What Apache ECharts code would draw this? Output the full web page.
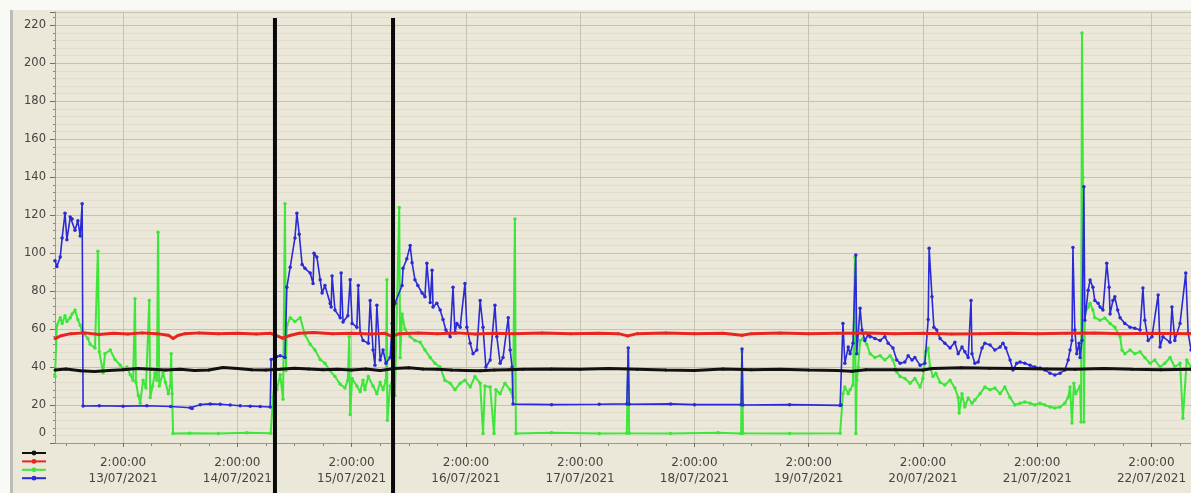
<!DOCTYPE html>
<html>
<head>
<meta charset="utf-8">
<title>chart</title>
<script src="https://cdn.jsdelivr.net/npm/echarts@6/dist/echarts.min.js"></script>
<style>
  html, body { margin: 0; padding: 0; background: #fff; }
  #chart { width: 1191px; height: 493px; }
</style>
</head>
<body>
<div id="chart"></div>
<script>
// x values are hours counted from 13/07/2021 2:00:00
const firstDay = 13
const xMin = -14.3
const xMax = 224.3
const dayTicks = [0, 24, 48, 72, 96, 120, 144, 168, 192, 216]
const sixHourTicks = [-12, -6, 6, 12, 18, 30, 36, 42, 54, 60, 66, 78, 84, 90, 102, 108, 114,
  126, 132, 138, 150, 156, 162, 174, 180, 186, 198, 204, 210, 222]
const yTicks = [0, 20, 40, 60, 80, 100, 120, 140, 160, 180, 200, 220]
const cursorHours = [31.9, 56.7]

const blackData = [
  [-14.3, 38.5], [-12, 39], [-9, 38], [-6, 37.6], [-3, 38.2], [0, 38.6], [3, 39.2], [6, 38.8],
  [9, 38.4], [12, 38.8], [15, 38.2], [18, 38.4], [21, 39.8], [24, 39.2], [27, 38.6], [30, 38.4],
  [33, 38.8], [36, 39.4], [39, 39.0], [42, 38.6], [45, 38.8], [48, 38.4], [51, 39.0], [54, 38.2],
  [57, 39.2], [60, 39.6], [63, 39.0], [66, 38.8], [69, 38.4], [72, 38.2], [75, 38.0], [78, 38.4],
  [81, 38.6], [84, 38.8], [90, 39.0], [96, 38.8], [102, 39.2], [108, 38.8], [114, 38.4], [120, 38.2],
  [126, 39.0], [132, 38.6], [138, 38.8], [144, 38.4], [150, 38.2], [153, 37.8], [156, 38.6],
  [162, 38.6], [168, 38.4], [170, 39.2], [176, 39.6], [182, 39.4], [188, 39.2], [194, 39.0],
  [200, 38.8], [206, 39.2], [212, 38.8], [218, 38.6], [224.3, 38.8]
]

const redData = [
  [-14.3, 55.0], [-13, 56.5], [-11, 57.6], [-8, 58.0], [-5, 57.2], [-2, 57.8], [1, 57.4], [4, 58.0],
  [7, 57.6], [9.5, 56.8], [10.5, 55.0], [11.5, 56.6], [13, 57.6], [16, 58.0], [20, 57.6], [24, 57.8],
  [28, 57.4], [31, 57.8], [33.5, 55.2], [35, 56.6], [37, 57.8], [40, 58.2], [44, 57.6], [48, 57.8],
  [52, 57.4], [55, 57.8], [56.5, 56.2], [58, 57.6], [62, 58.0], [66, 57.6], [70, 58.0], [74, 57.4],
  [78, 57.8], [82, 57.6], [88, 58.0], [94, 57.6], [100, 57.8], [104, 57.6], [106, 56.4], [108, 57.6],
  [114, 58.0], [120, 57.6], [126, 57.8], [130, 56.8], [132, 57.6], [138, 58.0], [144, 57.6],
  [150, 57.8], [156, 58.0], [162, 57.6], [168, 57.8], [174, 57.4], [180, 57.6], [186, 57.8],
  [192, 57.6], [198, 57.8], [204, 58.0], [210, 57.6], [216, 57.8], [224.3, 57.6]
]

const greenData = [
  [-14.3, 35], [-13.9, 62], [-13.2, 66], [-12.8, 63], [-12.2, 67], [-11.8, 64], [-11.1, 66],
  [-10.7, 68], [-10.1, 70], [-9.5, 65], [-9.0, 62], [-8.6, 59], [-7.4, 55], [-6.9, 52], [-5.9, 50],
  [-5.3, 101], [-5.0, 48], [-4.2, 37], [-3.8, 47], [-2.7, 49], [-1.7, 44], [-0.6, 41], [0.0, 39],
  [0.8, 40], [1.5, 36], [2.1, 33], [2.5, 76], [2.7, 32], [3.2, 25], [3.6, 21], [4.2, 33], [4.8, 29],
  [5.5, 75], [5.7, 24], [6.2, 30], [6.7, 37], [7.1, 33], [7.35, 111], [7.6, 30], [8.4, 37],
  [8.9, 32], [9.5, 26], [9.9, 30], [10.1, 47], [10.3, 26], [10.5, 5], [14, 5.2], [20, 5.0],
  [26, 5.4], [31, 5.2],
  [31.5, 24], [31.9, 34], [32.3, 28], [33.0, 36], [33.6, 23], [34.0, 126], [34.2, 38], [34.4, 62],
  [35.1, 66], [36.1, 64], [37.2, 66], [38.2, 57], [39.3, 52], [40.3, 49], [41.4, 44], [42.4, 42],
  [43.5, 38], [44.5, 35], [45.6, 31], [46.6, 29], [47.2, 33], [47.5, 56], [47.7, 15], [48.1, 34],
  [49.1, 30], [49.8, 27], [50.4, 33], [50.8, 28], [51.5, 35], [52.5, 30], [53.3, 26], [54.0, 32],
  [54.6, 28], [55.2, 33], [55.4, 86], [55.5, 12], [56.1, 30], [56.7, 34], [57.1, 25], [58.0, 124],
  [58.2, 45], [58.6, 68], [59.2, 60], [60.3, 56], [61.3, 54], [62.4, 53], [63.4, 49], [64.5, 45],
  [65.5, 42], [66.6, 40], [67.6, 33], [68.7, 31.5], [69.7, 28], [70.8, 31.5], [71.8, 33],
  [72.9, 29.5], [73.9, 35], [75.0, 31.5], [75.6, 5], [76.0, 30], [77.1, 29.5], [77.9, 5], [78.3, 28],
  [79.2, 26], [80.2, 31.5], [81.3, 28], [81.9, 24], [82.3, 118], [82.5, 5],
  [90, 5.4], [100, 5.0], [105.8, 5.2], [106.1, 48], [106.3, 5.2], [115, 5.0], [125, 5.4],
  [129.8, 5.0], [130.0, 48], [130.2, 5.2], [140, 5.0], [150.6, 5.2],
  [151.2, 26], [151.6, 29.5], [152.3, 26], [152.7, 28], [153.3, 30.5], [153.7, 98], [153.9, 5],
  [154.1, 33], [154.4, 40], [154.8, 54], [155.4, 55], [156.2, 52], [156.9, 47], [157.9, 45],
  [159.0, 46], [160.0, 43.7], [161.1, 46], [161.7, 43.7], [162.5, 37.4], [163.2, 35], [164.2, 34],
  [165.3, 31.5], [166.3, 34], [167.4, 29.5], [168.0, 34], [168.6, 48], [169.1, 50], [169.5, 40],
  [170.1, 35], [170.7, 36.8], [171.6, 32], [172.6, 30.5], [173.7, 33], [174.7, 29], [175.4, 24],
  [175.6, 15.8], [176.2, 26], [176.8, 19], [177.5, 23.7], [178.3, 21], [178.9, 22.6], [180.0, 26],
  [181.0, 29.5], [182.1, 28], [183.1, 29], [184.2, 26], [185.2, 29.5], [186.3, 24], [187.3, 20],
  [188.4, 21], [189.4, 21.6], [190.5, 21], [191.5, 20], [192.6, 21], [193.6, 20], [194.7, 19],
  [195.7, 18.4], [196.8, 19], [197.8, 21], [198.5, 24], [198.9, 29.5], [199.3, 10.5], [199.7, 31.5],
  [200.1, 26], [201.0, 30], [201.2, 11], [201.4, 216], [201.6, 140], [201.8, 11], [202.0, 68],
  [202.7, 71.6], [203.1, 73.6], [203.7, 70], [204.1, 66], [205.2, 64.7], [206.2, 65.8], [207.3, 63],
  [208.3, 61], [209.4, 56], [209.8, 49], [210.4, 47], [211.5, 49], [212.5, 47], [213.6, 48],
  [214.6, 45], [215.7, 42], [216.7, 43.7], [217.8, 40], [218.8, 42], [219.9, 45], [220.9, 40],
  [222.0, 42], [222.6, 13], [223.4, 43.7], [224.3, 40]
]

const blueData = [
  [-14.3, 96], [-13.9, 93], [-13.2, 98], [-12.8, 108], [-12.2, 121], [-11.8, 107], [-11.1, 119],
  [-10.7, 118], [-10.1, 112], [-9.5, 117], [-9.0, 109], [-8.6, 126], [-8.4, 19.5], [-5, 19.6],
  [0, 19.4], [5, 19.6], [10, 19.2], [14.1, 18.6], [14.5, 18.2], [16.2, 20.2], [18.3, 20.6],
  [20.4, 20.4], [22.5, 20.0], [24.6, 19.6], [26.7, 19.4], [28.8, 19.2], [30.9, 19.0],
  [31.1, 44], [32.3, 45.5], [33.0, 46], [34.0, 45], [34.4, 82], [35.1, 92.6], [36.1, 108],
  [36.5, 121], [37.0, 110], [37.6, 94], [38.2, 92], [39.3, 89.5], [39.9, 84], [40.1, 100],
  [40.7, 98], [41.4, 86], [41.8, 79], [42.4, 83], [43.5, 73.5], [43.7, 71.6], [43.9, 88], [44.5, 70],
  [45.6, 66], [45.8, 89.5], [46.2, 63.7], [47.2, 67], [47.7, 86], [48.1, 63], [49.1, 61], [49.4, 83],
  [49.8, 58], [50.4, 54], [51.5, 52.6], [51.9, 75], [52.5, 49], [52.9, 41], [53.3, 72.6], [54.0, 43.7],
  [54.6, 49], [55.2, 42], [56.1, 45], [56.5, 63], [57.1, 73.6], [58.6, 83], [58.8, 92], [59.6, 97],
  [60.3, 104], [60.7, 95], [61.3, 86], [61.9, 83], [62.8, 79], [63.4, 77], [63.8, 94.7], [64.5, 74],
  [64.9, 91], [65.1, 71.6], [65.9, 73.6], [66.6, 70], [67.2, 65], [67.8, 59.5], [68.7, 56], [69.3, 82],
  [69.7, 58], [70.1, 63], [70.8, 61], [71.8, 84], [72.2, 61], [72.9, 52.6], [73.5, 47], [74.3, 49],
  [75.0, 75], [75.6, 61], [76.2, 40], [77.1, 43.7], [78.1, 72.6], [78.5, 56], [79.2, 42], [79.8, 45],
  [80.9, 66], [81.3, 49], [81.7, 40], [81.9, 20.5], [90, 20.2], [100, 20.4], [105.8, 20.6],
  [106.1, 50], [106.3, 20.4], [115, 20.6], [120, 20.2], [129.8, 20.2], [130.0, 49.5], [130.2, 20.0],
  [140, 20.2], [150.6, 19.8], [150.8, 20], [151.2, 63], [151.6, 42], [152.3, 50.5], [152.7, 47],
  [153.3, 52.6], [153.9, 99], [154.1, 47], [154.8, 71], [155.2, 59.5], [155.8, 54], [156.5, 57],
  [156.9, 56], [157.9, 55], [159.0, 54], [160.0, 56], [160.7, 52.6], [161.7, 50], [162.5, 43.7],
  [163.2, 42], [164.2, 42.6], [164.9, 46], [165.7, 43.7], [166.3, 45], [167.4, 41], [168.4, 42],
  [169.1, 65], [169.3, 102.6], [169.9, 77], [170.3, 61], [170.9, 59.5], [171.6, 55], [172.6, 52.6],
  [173.7, 50], [174.7, 53], [175.4, 47], [176.2, 50.5], [176.8, 48], [177.5, 45], [178.1, 75],
  [178.3, 47], [178.9, 42], [179.6, 42.6], [180.4, 50], [181.0, 52.6], [182.1, 51.6], [183.1, 49],
  [184.2, 50.5], [184.8, 52.6], [185.4, 50], [186.3, 43.7], [186.9, 38.4], [187.7, 42], [188.4, 42.6],
  [189.4, 42], [190.5, 41], [191.5, 40], [192.6, 39.5], [193.6, 38.4], [194.7, 36.8], [195.7, 35.8],
  [196.8, 36.8], [197.8, 38.4], [198.5, 43.7], [198.9, 49], [199.3, 54], [199.5, 103], [199.9, 59.5],
  [200.3, 47], [200.8, 52.6], [201.0, 45], [201.4, 54], [201.8, 135], [202.0, 64.7], [202.7, 80.5],
  [203.1, 85.8], [203.7, 82], [204.1, 75], [204.8, 73.6], [205.2, 71.6], [205.8, 70], [206.6, 94.7],
  [207.1, 82], [207.3, 68], [207.9, 75], [208.3, 77], [208.9, 70], [209.4, 66], [210.4, 63],
  [211.5, 61], [212.5, 60.5], [213.6, 59.5], [214.2, 81.6], [214.6, 64.7], [215.3, 54], [216.1, 56],
  [217.4, 78], [217.8, 50.5], [218.4, 56], [219.9, 53], [220.3, 71.6], [220.9, 54], [222.0, 63],
  [223.2, 89.5], [223.7, 58], [224.3, 49]
]

const seriesNames = ['s1', 's2', 's3', 's4']
const seriesColors = ['#111111', '#e8251f', '#3ee63a', '#2a2ad6']

const chart = echarts.init(document.getElementById('chart'))

function lineSeries(i, data, width, symSize, z) {
  return {
    name: seriesNames[i],
    type: 'line',
    data: data,
    xAxisIndex: 0,
    z: z,
    color: seriesColors[i],
    symbol: 'circle',
    symbolSize: symSize,
    showSymbol: true,
    showAllSymbol: true,
    lineStyle: { width: width, color: seriesColors[i] },
    itemStyle: { color: seriesColors[i] },
    emphasis: { disabled: true },
    clip: true
  }
}

chart.setOption({
  animation: false,
  backgroundColor: '#ebe8da',
  textStyle: { fontFamily: 'DejaVu Sans' },
  grid: { left: 55, right: 0, top: 12, bottom: 50 },
  legend: {
    data: seriesNames,
    orient: 'vertical',
    left: 21,
    top: 450,
    itemWidth: 24,
    itemHeight: 6,
    itemGap: 3,
    padding: 0,
    formatter: () => '',
    selectedMode: false
  },
  xAxis: [
    {
      type: 'value',
      min: xMin,
      max: xMax,
      axisLine: { onZero: false, lineStyle: { color: '#9a988c', width: 1 } },
      axisTick: { length: 4, customValues: dayTicks, lineStyle: { color: '#6f6d63' } },
      splitLine: { show: true, lineStyle: { color: '#c6c2b0', width: 1 } },
      axisLabel: {
        customValues: dayTicks,
        color: '#45453f',
        fontSize: 12,
        lineHeight: 16,
        margin: 12,
        formatter: v => {
          const d = firstDay + Math.round(v / 24)
          return '2:00:00\n' + String(d).padStart(2, '0') + '/07/2021'
        }
      }
    },
    {
      // 6-hour marks between the day ticks
      type: 'value',
      min: xMin,
      max: xMax,
      position: 'bottom',
      axisLine: { show: false, onZero: false },
      axisTick: { length: 3, customValues: sixHourTicks, lineStyle: { color: '#8a887c' } },
      splitLine: { show: false },
      axisLabel: { show: false }
    }
  ],
  yAxis: {
    type: 'value',
    min: yTicks[0],
    max: 227,
    interval: 20,
    axisLine: { show: true, onZero: false, lineStyle: { color: '#9a988c', width: 1 } },
    axisTick: { show: true, length: 5, lineStyle: { color: '#6f6d63' } },
    minorTick: { show: true, splitNumber: 5, length: 2, lineStyle: { color: '#8a887c' } },
    splitLine: { show: true, lineStyle: { color: '#c6c2b0', width: 1 } },
    minorSplitLine: { show: true, lineStyle: { color: '#e0ddcd', width: 1 } },
    axisLabel: {
      showMaxLabel: false,
      color: '#45453f',
      fontSize: 11.5,
      margin: 9,
      formatter: v => {
        if (yTicks.indexOf(v) < 0) return ''
        return v === 0 ? '{z|0}' : String(v)
      },
      rich: { z: { fontSize: 11.5, color: '#45453f', padding: [0, 0, 20, 0] } }
    }
  },
  series: [
    lineSeries(0, blackData, 3, 3, 5),
    lineSeries(1, redData, 3, 3, 4),
    lineSeries(2, greenData, 2, 3.5, 2),
    lineSeries(3, blueData, 1.6, 3.5, 3)
  ]
})

// black cursor lines placed through the x axis scale
const elements = [
  { type: 'rect', shape: { x: 0, y: 0, width: 1191, height: 10 }, style: { fill: '#f9f9f5' }, silent: true },
  { type: 'rect', shape: { x: 0, y: 0, width: 10, height: 493 }, style: { fill: '#f9f9f5' }, silent: true },
  { type: 'rect', shape: { x: 10, y: 10, width: 3, height: 483 }, style: { fill: '#bdbcb5' }, silent: true }
]
cursorHours.forEach(h => {
  const px = chart.convertToPixel({ xAxisIndex: 0 }, h)
  elements.push({
    type: 'line',
    z: 100,
    silent: true,
    shape: { x1: px, y1: 18, x2: px, y2: 493 },
    style: { stroke: '#0a0a0a', lineWidth: 4 }
  })
})
chart.setOption({ graphic: { elements: elements } })
</script>
</body>
</html>
